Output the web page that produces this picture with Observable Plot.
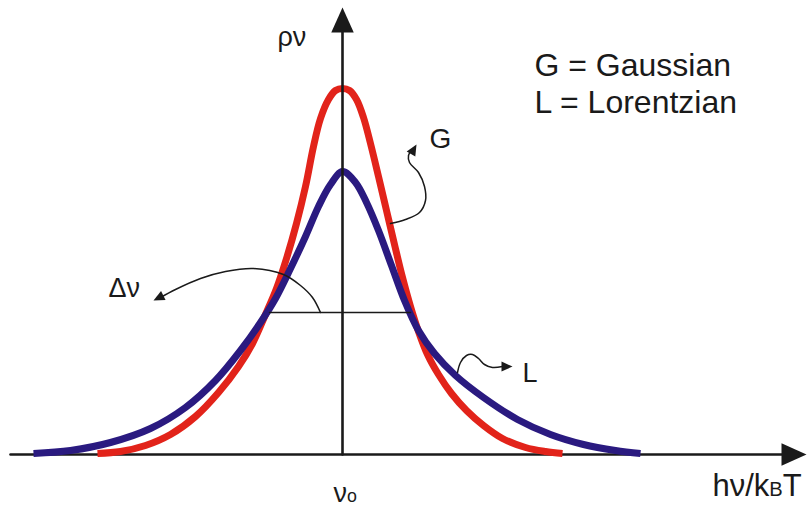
<!DOCTYPE html>
<html>
<head>
<meta charset="utf-8">
<script src="https://cdn.jsdelivr.net/npm/d3@7"></script>
<script src="https://cdn.jsdelivr.net/npm/@observablehq/plot@0.6"></script>
<style>
  body { margin: 0; background: #fff; }
  svg { display: block; }
</style>
</head>
<body>
<div id="chart"></div>
<script>
// Line-shape profiles: x = frequency offset from the line centre ν0,
// y = spectral density ρν (arbitrary units).
const gaussian = [
  [-2.45, 0.01], [-2.22, 0.03], [-1.97, 0.09], [-1.72, 0.20], [-1.47, 0.38],
  [-1.24, 0.62], [-1.04, 0.88], [-0.90, 1.11], [-0.77, 1.40], [-0.66, 1.66],
  [-0.56, 1.96], [-0.46, 2.31], [-0.37, 2.68], [-0.29, 3.08], [-0.22, 3.36],
  [-0.14, 3.55], [-0.07, 3.64], [0.00, 3.66], [0.07, 3.64], [0.14, 3.55],
  [0.21, 3.37], [0.28, 3.11], [0.36, 2.78], [0.44, 2.44], [0.52, 2.10],
  [0.60, 1.77], [0.68, 1.48], [0.76, 1.23], [0.85, 1.00], [0.96, 0.80],
  [1.09, 0.61], [1.24, 0.44], [1.41, 0.29], [1.60, 0.16], [1.83, 0.07],
  [2.03, 0.03], [2.20, 0.01]
];
const lorentzian = [
  [-3.09, 0.01], [-2.72, 0.04], [-2.32, 0.12], [-1.92, 0.26], [-1.57, 0.47],
  [-1.27, 0.74], [-1.02, 1.04], [-0.82, 1.32], [-0.67, 1.56], [-0.52, 1.86],
  [-0.37, 2.18], [-0.24, 2.48], [-0.12, 2.70], [0.00, 2.83], [0.13, 2.72],
  [0.24, 2.52], [0.36, 2.24], [0.49, 1.89], [0.62, 1.54], [0.76, 1.24],
  [0.92, 1.01], [1.13, 0.79], [1.41, 0.57], [1.75, 0.35], [2.08, 0.20],
  [2.41, 0.10], [2.73, 0.04], [2.98, 0.01]
];

// Full width at half maximum of the Lorentzian
const fwhm = [[-0.73, 1.42], [0.68, 1.42]];

// Axes (ends of the arrows)
const xAxisLine = [[-3.32, 0], [4.50, 0]];
const yAxisLine = [[0, 0], [0, 4.30]];
const axisHeads = [
  {x: 0, y: 4.47, angle: 0},
  {x: 4.64, y: 0, angle: 90}
];

// Pointer paths for the labels
const pointerWidth = [
  [-0.22, 1.42], [-0.30, 1.57], [-0.42, 1.69], [-0.59, 1.80], [-0.89, 1.86],
  [-1.17, 1.83], [-1.42, 1.76], [-1.67, 1.65], [-1.82, 1.57]
];
const pointerG = [
  [0.48, 2.31], [0.63, 2.35], [0.77, 2.42], [0.83, 2.54], [0.82, 2.68],
  [0.76, 2.82], [0.67, 2.92], [0.66, 2.99], [0.69, 3.04]
];
const pointerL = [
  [1.15, 0.82], [1.18, 0.92], [1.24, 0.99], [1.30, 1.00], [1.36, 0.96],
  [1.42, 0.90], [1.50, 0.87], [1.60, 0.88]
];
const pointerHeads = [
  {x: -1.89, y: 1.54, angle: 243},
  {x: 0.74, y: 3.10, angle: 30},
  {x: 1.70, y: 0.88, angle: 90}
];

// Text
const labels = [
  {text: "ρν", x: -0.65, y: 4.09, size: 27},
  {text: "G = Gaussian", x: 1.92, y: 3.79, size: 32},
  {text: "L = Lorentzian", x: 1.92, y: 3.42, size: 32},
  {text: "G", x: 0.87, y: 3.07, size: 28},
  {text: "L", x: 1.80, y: 0.73, size: 27},
  {text: "Δν", x: -2.34, y: 1.58, size: 27},
  {text: "νo", x: -0.09, y: -0.47, size: 27},
  {text: "hν/kBT", x: 3.70, y: -0.41, size: 31}
];

const ink = "#1a1a1a";
const red = "#e2231a";
const blue = "#2a1a80";

// Filled triangular arrowhead with its tip at the anchor point, pointing up
const arrowhead = {
  draw(context, size) {
    const r = Math.sqrt(size / Math.PI);
    context.moveTo(0, 0);
    context.lineTo(-0.45 * r, r);
    context.lineTo(0.45 * r, r);
    context.closePath();
  }
};

const pt = (d) => ({x: d[0], y: d[1]});
const thin = {x: "x", y: "y", stroke: ink, strokeWidth: 1.5, curve: "catmull-rom", fill: "none"};
const thick = {x: "x", y: "y", strokeWidth: 7, curve: "catmull-rom", strokeLinecap: "butt"};

const svg = Plot.plot({
  width: 808,
  height: 506,
  margin: 0,
  x: {domain: [-3.42, 4.66], axis: null},
  y: {domain: [-0.52, 4.54], axis: null},
  style: {fontFamily: "'Liberation Sans', Arial, sans-serif", background: "#fff", color: ink},
  marks: [
    Plot.line(xAxisLine.map(pt), {x: "x", y: "y", stroke: ink, strokeWidth: 2.6}),
    Plot.line(gaussian.map(pt), {...thick, stroke: red}),
    Plot.line(lorentzian.map(pt), {...thick, stroke: blue}),
    Plot.line(yAxisLine.map(pt), {x: "x", y: "y", stroke: ink, strokeWidth: 2.6}),
    Plot.dot(axisHeads, {x: "x", y: "y", rotate: "angle", symbol: arrowhead, r: 25, fill: ink, stroke: "none"}),
    Plot.line(fwhm.map(pt), {x: "x", y: "y", stroke: ink, strokeWidth: 1.5}),
    Plot.line(pointerWidth.map(pt), thin),
    Plot.line(pointerG.map(pt), thin),
    Plot.line(pointerL.map(pt), thin),
    Plot.dot(pointerHeads, {x: "x", y: "y", rotate: "angle", symbol: arrowhead, r: 11, fill: ink, stroke: "none"}),
    Plot.text(labels, {x: "x", y: "y", text: "text", fontSize: "size", textAnchor: "start", lineAnchor: "bottom", fill: ink})
  ]
});

// Small-size parts of the axis labels (k_B and ν_0)
const parts = {
  "hν/kBT": [["hν/k"], ["B", "0.65em"], ["T"]],
  "νo": [["ν"], ["o", "0.66em"]]
};
d3.select(svg).selectAll("text").each(function () {
  const p = parts[this.textContent];
  if (!p) return;
  const sel = d3.select(this);
  sel.text(null);
  for (const [s, fs] of p) {
    const t = sel.append("tspan").text(s);
    if (fs) t.attr("font-size", fs);
  }
});

document.getElementById("chart").appendChild(svg);
</script>
</body>
</html>
